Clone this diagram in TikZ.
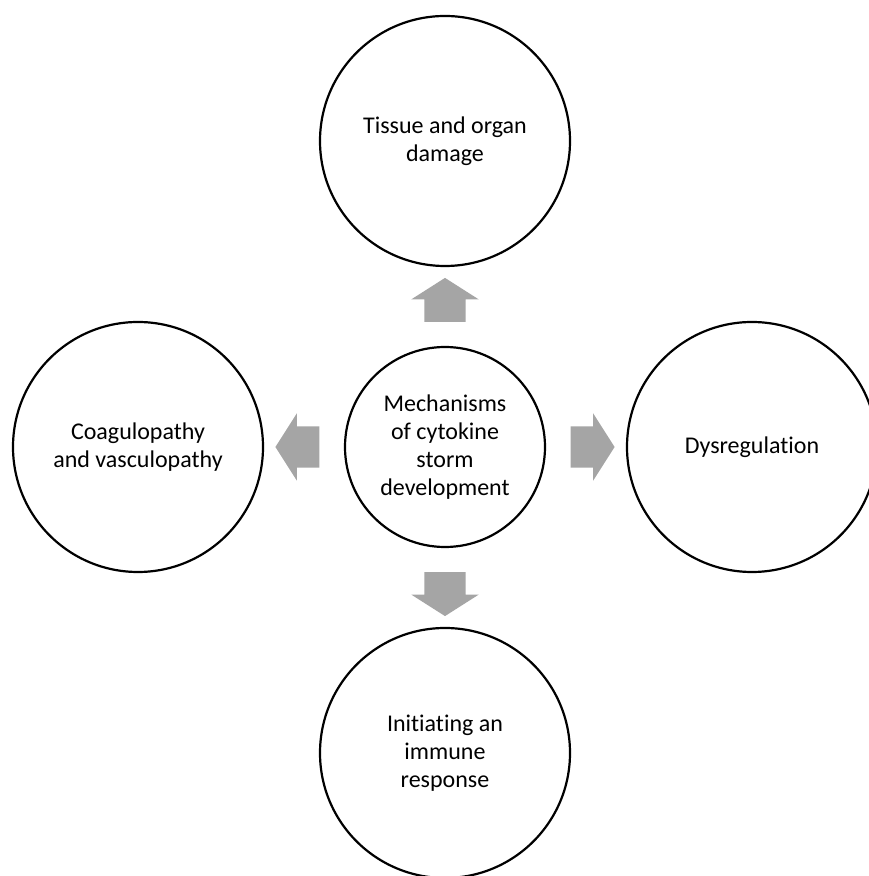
\documentclass[tikz,border=0pt]{standalone}
\usepackage{fontspec}
\setmainfont{Carlito}[Ligatures={NoCommon}]
\usetikzlibrary{shapes.arrows, calc}
\definecolor{arrowgray}{HTML}{A5A5A5}

\tikzset{
  bubble/.style = {circle, draw, line width=2.2pt, minimum size=250pt,
    inner sep=0pt, align=center, font=\fontsize{24}{28}\selectfont},
  hub/.style = {bubble, minimum size=200pt},
  blockarrow/.style = {single arrow, fill=arrowgray, draw=none,
    inner xsep=0pt, inner ysep=20.5pt, minimum height=44pt,
    single arrow head extend=13pt, single arrow tip angle=115}
}

\begin{document}
\begin{tikzpicture}[x=1pt, y=1pt]
\useasboundingbox (0,0) rectangle (868,876);

\node[hub] (storm) at (445,429) {Mechanisms\\of cytokine\\storm\\development};
\node[bubble] (damage) at (445,735) {Tissue and organ\\damage};
\node[bubble] (coag) at (138,429) {Coagulopathy\\and vasculopathy};
\node[bubble] (dysreg) at (752,429) {Dysregulation};
\node[bubble] (immune) at (445,123) {Initiating an\\immune\\response};

% block arrows out of the hub
\node[blockarrow, rotate=90] (toDamage) at ($(storm.north)!0.5!(damage.south)$) {};
\node[blockarrow, rotate=180] (toCoag) at ($(storm.west)!0.5!(coag.east)$) {};
\node[blockarrow] (toDysreg) at ($(storm.east)!0.5!(dysreg.west)$) {};
\node[blockarrow, rotate=270] (toImmune) at ($(storm.south)!0.5!(immune.north)$) {};
\end{tikzpicture}
\end{document}
